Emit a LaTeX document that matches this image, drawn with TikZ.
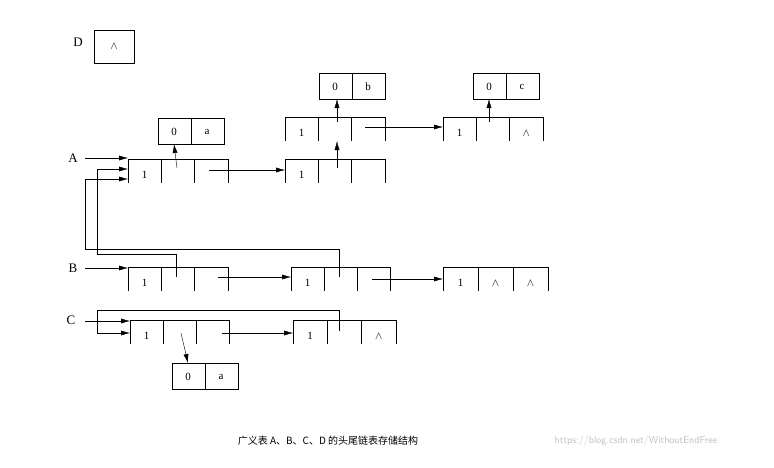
\documentclass[tikz,border=0pt]{standalone}
\usepackage{fontspec}
\setmainfont{Liberation Serif}
\newfontfamily\cjk{Noto Sans CJK SC}
\usetikzlibrary{arrows.meta}
\newcommand\lnode[7]{% name, x0, cellw, ytop, t1,t2,t3
  \coordinate (#1) at (#2,#4);
  \draw[thin] (#2,{#4+24}) -- (#2,#4) -- ({#2+3*#3},#4) -- ({#2+3*#3},{#4+24});
  \draw[thin] ({#2+#3},#4) -- ({#2+#3},{#4+24}) ({#2+2*#3},#4) -- ({#2+2*#3},{#4+24});
  \node (#1-a) at ({#2+0.5*#3},{#4+16}) {#5};
  \node (#1-b) at ({#2+1.5*#3},{#4+16}) {#6};
  \node (#1-c) at ({#2+2.5*#3},{#4+16}) {#7};
  \coordinate (#1-m) at ({#2+1.5*#3},{#4+10});
  \coordinate (#1-r) at ({#2+2.5*#3},{#4+10});
}
\newcommand\atom[5]{% name, x0, ytop, t1, t2
  \draw[thin] (#2,#3) rectangle ({#2+66},{#3+26}) ({#2+33},#3) -- ({#2+33},{#3+26});
  \node at ({#2+16},{#3+14}) {#4};
  \node at ({#2+49},{#3+14}) {#5};
  \coordinate (#1-bot) at ({#2+16},{#3+26});
  \coordinate (#1-top) at ({#2+16},#3);
}
\begin{document}
\begin{tikzpicture}[x=1pt,y=-1pt,font=\fontsize{11}{12}\selectfont,
  arr/.style={-{Latex[length=9pt,width=5pt]},thin},
  lbl/.style={font=\fontsize{13}{14}\selectfont}]
\useasboundingbox (0,0) rectangle (774,467);
% D
\node[lbl] (D) at (78,42) {D};
\node[draw,thin,minimum width=40pt,minimum height=33pt,inner sep=0] (Dbox) at (114,46.5) {$\wedge$};
% atoms
\atom{a1}{158}{118}{0}{a}
\atom{ab}{319}{73}{0}{b}
\atom{ac}{473}{73}{0}{c}
\atom{a2}{172}{363}{0}{a}
% list nodes
\lnode{A1}{128}{33.3}{159}{1}{}{}
\lnode{A2}{285}{33.3}{159}{1}{}{}
\lnode{U1}{285}{33.3}{117}{1}{}{}
\lnode{U2}{443}{33.3}{117}{1}{}{$\wedge$}
\lnode{B1}{128}{33.3}{267}{1}{}{}
\lnode{B2}{291}{33}{267}{1}{}{}
\lnode{B3}{443}{35}{267}{1}{$\wedge$}{$\wedge$}
\lnode{C1}{130}{33}{320}{1}{}{}
\lnode{C2}{293}{34.3}{320}{1}{}{$\wedge$}
% labels
\node[lbl] (A) at (73,158) {A};
\node[lbl] (B) at (73,268) {B};
\node[lbl] (C) at (71,320) {C};
% A row
\draw[arr] (85,158) -- (A1 |- 0,158);
\draw[arr] (177,168) -- (a1-bot);
\draw[arr] (209,170) -- (A2 |- 0,170);
\draw[arr] (337,168) -- (337,141);
\draw[arr] (337,122) -- (337,99);
\draw[arr] (365,127) -- (U2 |- 0,127);
\draw[arr] (489,122) -- (489,99);
% B row
\draw[arr] (85,268) -- (B1 |- 0,268);
\draw[arr] (218,277) -- (B2 |- 0,277);
\draw[arr] (372,279) -- (B3 |- 0,279);
\draw[arr] (176,277) -- (176,254) -- (97,254) -- (97,169) -- (A1 |- 0,169);
\draw[arr] (339,277) -- (339,249) -- (85,249) -- (85,179) -- (A1 |- 0,179);
% C row
\draw[arr] (85,321) -- (C1 |- 0,321);
\draw[arr] (339,331) -- (339,310) -- (97,310) -- (97,333) -- (C1 |- 0,333);
\draw[arr] (222,333) -- (C2 |- 0,333);
\draw[arr] (181,333) -- (a2-top);
% caption
\node[font=\cjk\fontsize{10}{12}\selectfont] (cap) at (328,441) {广义表 A、B、C、D 的头尾链表存储结构};
\node[font=\sffamily\fontsize{10}{12}\selectfont,text=black!25] (wm) at (636,441) {https://blog.csdn.net/WithoutEndFree};
\end{tikzpicture}
\end{document}
